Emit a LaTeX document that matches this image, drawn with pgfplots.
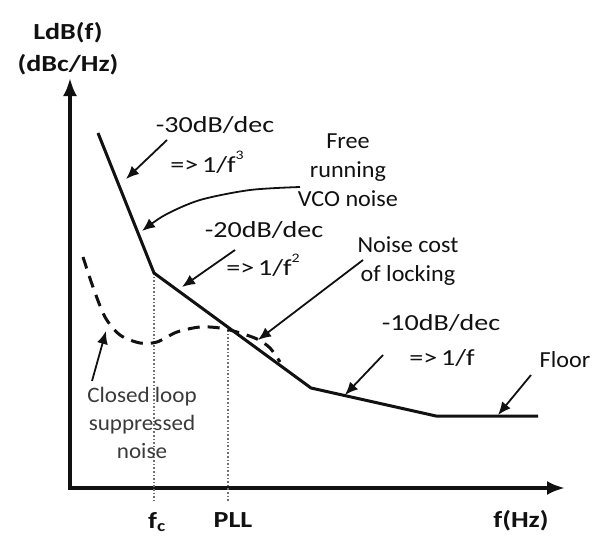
\documentclass[border=0pt]{standalone}
\usepackage{fontspec}
\setmainfont{Carlito}[FakeStretch=1.05]
\newfontfamily\wide{Carlito}[FakeStretch=1.22]
\usepackage{pgfplots}
\pgfplotsset{compat=1.18}
\usetikzlibrary{arrows.meta}
\definecolor{Ink}{HTML}{111111}
\definecolor{SoftInk}{HTML}{3A3A3A}
\definecolor{DotGray}{HTML}{707070}
\newcommand{\smallsup}[1]{\raisebox{0.55em}{\fontsize{13}{13}\selectfont #1}}

\begin{document}
\begin{tikzpicture}
\begin{axis}[
  scale only axis,
  width=598pt, height=538pt,
  xmin=0, xmax=598, ymin=0, ymax=538,
  y dir=reverse,
  hide axis, clip=false,
]
\path (rel axis cs:0,0) rectangle (rel axis cs:1,1);

% axes
\addplot[Ink, line width=3.5pt, -{Latex[length=18pt,width=14pt]}] coordinates {(70,488) (70,78)};
\addplot[Ink, line width=3.5pt, -{Latex[length=18pt,width=14pt]}] coordinates {(68.25,488) (565,488)};

% dotted markers at fc and PLL
\addplot[DotGray, line width=1.6pt, dash pattern=on 1.6pt off 2pt] coordinates {(154,273) (154,502)};
\addplot[DotGray, line width=1.6pt, dash pattern=on 1.6pt off 2pt] coordinates {(228,330) (228,502)};

% free running VCO noise (asymptotes)
\addplot[Ink, line width=3pt] coordinates {(98,133) (154,273) (311,388) (436,416) (538,416)};

% closed loop suppressed noise
\addplot[Ink, line width=3pt, dash pattern=on 12pt off 8pt, smooth, tension=0.5] coordinates {
  (83,257) (93,287) (105,317) (120,335) (140,343) (157,342) (177,332)
  (200,327) (220,328) (237,332) (257,339) (270,348) (280,362)};

% annotation arrows
\addplot[Ink, line width=1.8pt, -{Latex[length=13pt,width=11pt]}] coordinates {(167,140) (126,179)};
\addplot[Ink, line width=1.8pt, -{Latex[length=13pt,width=11pt]}, smooth] coordinates {(300,187) (250,190) (200,200) (165,215) (142,231)};
\addplot[Ink, line width=1.8pt, -{Latex[length=13pt,width=11pt]}] coordinates {(235,250) (182,287)};
\addplot[Ink, line width=1.8pt, -{Latex[length=13pt,width=11pt]}] coordinates {(363,260) (258,340)};
\addplot[Ink, line width=1.8pt, -{Latex[length=13pt,width=11pt]}] coordinates {(383,355) (345,395)};
\addplot[Ink, line width=1.8pt, -{Latex[length=13pt,width=11pt]}] coordinates {(531,375) (498,415)};
\addplot[Ink, line width=1.8pt, -{Latex[length=13pt,width=11pt]}] coordinates {(92,381) (106,331)};

% labels
\node[text=Ink, font=\wide\bfseries\fontsize{23}{29}\selectfont] at (axis cs:68,33) {LdB(f)};
\node[text=Ink, font=\wide\bfseries\fontsize{23}{29}\selectfont] at (axis cs:68,65) {(dBc/Hz)};
\node[text=Ink, font=\wide\bfseries\fontsize{23}{29}\selectfont] at (axis cs:157,522) {f\textsubscript{c}};
\node[text=Ink, font=\wide\bfseries\fontsize{23}{29}\selectfont] at (axis cs:233,520) {PLL};
\node[text=Ink, font=\wide\bfseries\fontsize{23}{29}\selectfont] at (axis cs:521,521) {f(Hz)};

\node[text=Ink, font=\wide\fontsize{23}{29}\selectfont] at (axis cs:215,125) {-30dB/dec};
\node[text=Ink, font=\wide\fontsize{23}{29}\selectfont] at (axis cs:207,162) {=>\,1/f\smallsup{3}};
\node[text=Ink, font=\wide\fontsize{23}{29}\selectfont] at (axis cs:264,230) {-20dB/dec};
\node[text=Ink, font=\wide\fontsize{23}{29}\selectfont] at (axis cs:263,265) {=>\,1/f\smallsup{2}};
\node[text=Ink, font=\wide\fontsize{23}{29}\selectfont] at (axis cs:441,323) {-10dB/dec};
\node[text=Ink, font=\wide\fontsize{23}{29}\selectfont] at (axis cs:442,358) {=>\,1/f};

\node[text=Ink, align=center, font=\fontsize{23}{29}\selectfont] at (axis cs:348,170) {Free\\running\\VCO noise};
\node[text=Ink, align=center, font=\fontsize{23}{29}\selectfont] at (axis cs:408,261) {Noise cost\\of locking};
\node[text=Ink, font=\fontsize{23}{29}\selectfont] at (axis cs:565,360) {Floor};
\node[align=center, text=SoftInk, font=\fontsize{22}{28}\selectfont] at (axis cs:142,423) {Closed loop\\suppressed\\noise};
\end{axis}
\end{tikzpicture}
\end{document}
